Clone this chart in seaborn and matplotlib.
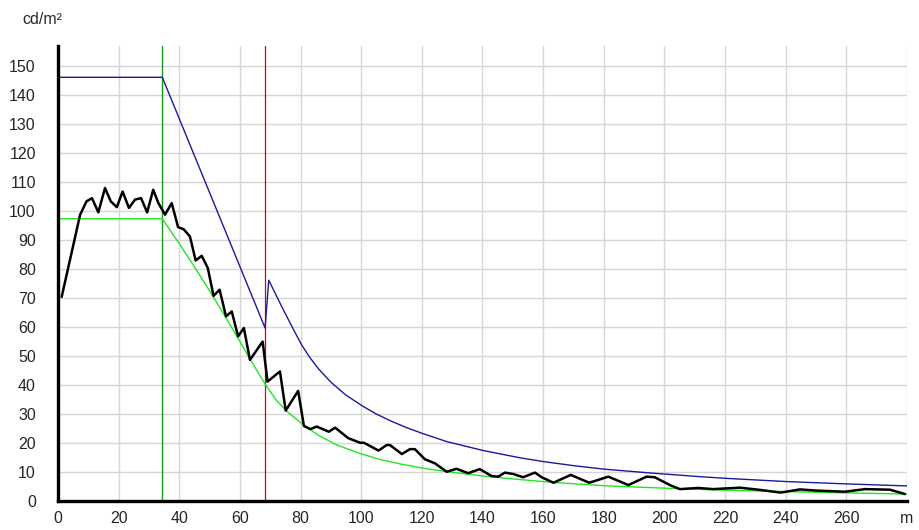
import numpy as np
import pandas as pd
import matplotlib
matplotlib.use("Agg")
import matplotlib.pyplot as plt
import seaborn as sns

measured_x = [1.2, 7.3, 9.4, 11.2, 13.3, 15.5, 17.4, 19.4, 21.3, 23.4, 25.4, 27.4, 29.4, 31.4,
              33.1, 35.3, 37.5, 39.6, 41.4, 43.5, 45.4, 47.4, 49.4, 51.3, 53.3, 55.4, 57.3,
              59.4, 61.3, 63.3, 67.5, 69.1, 73.2, 75.1, 79.2, 81.1, 83.2, 85.3, 89.3, 91.4,
              95.7, 99.6, 100.9, 105.7, 108.4, 109.5, 113.4, 116.1, 117.7, 121.0, 124.3,
              128.2, 131.4, 135.3, 139.1, 143.0, 145.2, 147.4, 150.2, 153.4, 157.3, 159.5,
              163.4, 169.1, 175.2, 181.5, 188.1, 194.1, 196.8, 201.8, 205.1, 211.2, 216.0,
              224.9, 231.8, 238.3, 244.7, 250.0, 259.5, 266.2, 274.4, 279.3]
measured_y = [70.4, 98.8, 103.4, 104.5, 99.6, 108.0, 103.4, 101.4, 106.8, 101.1, 104.0, 104.5,
              99.6, 107.4, 102.8, 98.8, 102.8, 94.5, 93.8, 91.3, 83.0, 84.6, 80.4, 70.8, 72.9,
              63.7, 65.4, 56.8, 59.7, 48.7, 55.0, 41.2, 44.7, 31.2, 38.0, 25.9, 24.8, 25.7,
              23.9, 25.3, 21.7, 20.1, 20.1, 17.4, 19.3, 19.3, 16.2, 17.9, 17.9, 14.4, 13.0,
              10.1, 11.1, 9.6, 11.0, 8.6, 8.4, 9.8, 9.3, 8.2, 9.8, 8.2, 6.3, 9.0, 6.3, 8.4,
              5.5, 8.4, 8.2, 5.5, 4.1, 4.5, 4.1, 4.6, 3.8, 2.9, 4.0, 3.6, 3.2, 4.1, 3.9, 2.4]

# upper limit curve (blue)
upper_x = [0, 34.4, 68.3, 69.5, 74.3, 78.0, 80.4, 83.0, 86.0, 90.0, 95.0, 100.7, 105.0,
           110.0, 115.0, 120.5, 128.2, 140.3, 152.4, 160.1, 170.0, 180.0, 195.0, 211.7,
           220.5, 240.3, 260.1, 280.0]
upper_y = [146.2, 146.2, 59.7, 76.2, 66.0, 58.5, 53.8, 49.6, 45.5, 41.0, 36.5, 32.6, 30.0,
           27.5, 25.3, 23.2, 20.5, 17.4, 14.9, 13.6, 12.2, 11.0, 9.7, 8.4, 7.8, 6.7, 5.9, 5.2]

# lower limit curve (green)
lower_x = [0, 34.4, 40.0, 45.0, 50.0, 55.0, 60.0, 64.0, 68.5, 72.0, 75.4, 80.5, 86.0, 92.0,
           99.6, 106.0, 112.8, 120.0, 127.1, 140.3, 152.4, 163.4, 181.4, 200.8, 215.0,
           233.7, 255.7, 280.0]
lower_y = [97.4, 97.4, 88.8, 80.8, 72.5, 63.9, 55.0, 47.8, 40.0, 34.8, 31.0, 26.6, 22.6,
           19.3, 16.4, 14.4, 12.8, 11.4, 10.3, 8.6, 7.4, 6.4, 5.2, 4.4, 3.9, 3.4, 2.9, 2.4]

# zone boundaries
zone_green = 34.4
zone_red = 68.4

x_ticks = list(range(0, 281, 20))
x_tick_labels = [str(t) for t in range(0, 261, 20)] + ["m"]
y_ticks = list(range(0, 151, 10))

sns.set_style("white")
plt.rcParams['font.family'] = ['Liberation Sans', 'DejaVu Sans']

fig = plt.figure(figsize=(9.2, 5.3), dpi=100)
ax = fig.add_axes([58 / 920, 29 / 530, 849 / 920, 455 / 530])

df_up = pd.DataFrame({'x': upper_x, 'y': upper_y})
df_low = pd.DataFrame({'x': lower_x, 'y': lower_y})
df_meas = pd.DataFrame({'x': measured_x, 'y': measured_y})

ax.axvline(zone_green, color='#1a9a1a', lw=1.0, zorder=2)
ax.axvline(zone_red, color='#e00000', lw=0.9, zorder=2)

sns.lineplot(data=df_up, x='x', y='y', sort=False, estimator=None, color='#1a1aa0', lw=1.0, ax=ax, zorder=3)
sns.lineplot(data=df_low, x='x', y='y', sort=False, estimator=None, color='#22e622', lw=1.0, ax=ax, zorder=3)
sns.lineplot(data=df_meas, x='x', y='y', sort=False, estimator=None, color='black', lw=1.8, ax=ax, zorder=4)

ax.set_xlim(0, 280)
ax.set_ylim(0, 157)
ax.set_xticks(x_ticks)
ax.set_xticklabels(x_tick_labels)
ax.set_yticks(y_ticks)
ax.set_xlabel('')
ax.set_ylabel('')

ax.grid(True, color='#d6d6d6', lw=1.0, zorder=0)
ax.set_axisbelow(True)
ax.tick_params(axis='y', length=6, color='#d6d6d6', width=1.0, pad=10, labelsize=11.5)
ax.tick_params(axis='x', length=0, pad=7, labelsize=11.5)

for side in ['top', 'right']:
    ax.spines[side].set_visible(False)
for side in ['left', 'bottom']:
    ax.spines[side].set_color('black')
    ax.spines[side].set_linewidth(2.4)
    ax.spines[side].set_zorder(5)

fig.text(22 / 920, 1 - 20 / 530, 'cd/m²', fontsize=11.5, va='center', ha='left')

fig.savefig('out.png', dpi=100)
plt.close(fig)
